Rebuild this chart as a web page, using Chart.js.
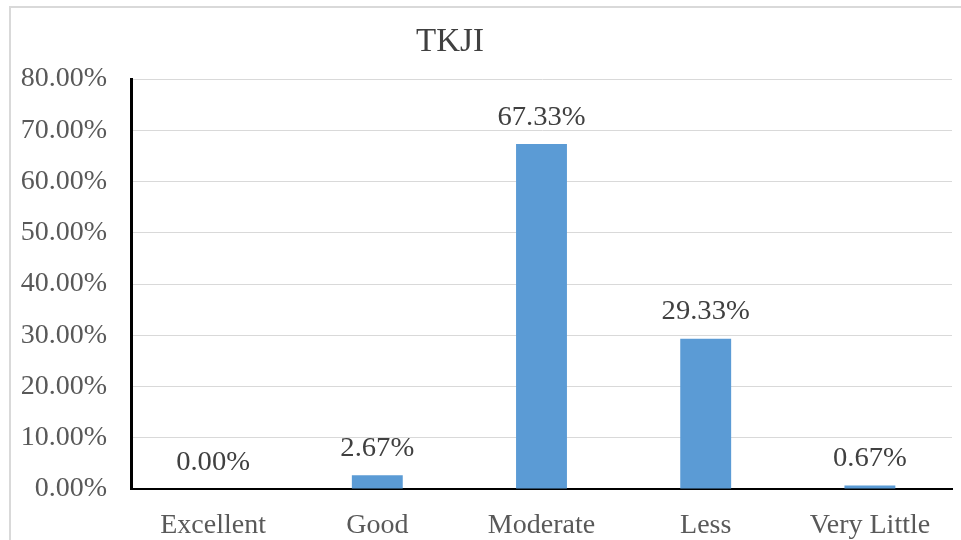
<!DOCTYPE html>
<html>
<head>
<meta charset="utf-8">
<script src="https://cdn.jsdelivr.net/npm/chart.js@4/dist/chart.umd.min.js"></script>
<style>
  body { margin: 0; background: #fff; }
  canvas { display: block; }
</style>
</head>
<body>
<canvas id="chart" width="961" height="540"></canvas>
<script>
const categories = ['Excellent', 'Good', 'Moderate', 'Less', 'Very Little'];
const percentages = [0.00, 2.67, 67.33, 29.33, 0.67];
const yTicks = [0, 10, 20, 30, 40, 50, 60, 70, 80];
const chartTitle = 'TKJI';

const serif = '"Liberation Serif", "Times New Roman", serif';

// frame + title drawn by hand, like the spreadsheet export
const framePlugin = {
    id: 'frame',
    beforeDraw(chart) {
        const ctx = chart.ctx;
        ctx.save();
        ctx.strokeStyle = '#d9d9d9';
        ctx.lineWidth = 2;
        ctx.strokeRect(10, 7, 980, 560);
        ctx.restore();
    },
    afterDraw(chart) {
        const ctx = chart.ctx;
        ctx.save();
        ctx.fillStyle = '#404040';
        ctx.font = '33px ' + serif;
        ctx.textAlign = 'center';
        ctx.textBaseline = 'middle';
        ctx.fillText(chartTitle, 450, 42);
        ctx.restore();
    }
};

// value labels above each bar (text a bit wider than tall, as in the original)
const valueLabels = {
    id: 'valueLabels',
    afterDatasetsDraw(chart) {
        const ctx = chart.ctx;
        ctx.save();
        ctx.fillStyle = '#404040';
        ctx.font = '27px ' + serif;
        ctx.textAlign = 'center';
        ctx.textBaseline = 'bottom';
        chart.getDatasetMeta(0).data.forEach((bar, i) => {
            ctx.save();
            ctx.translate(bar.x, bar.y - 13);
            ctx.scale(1.06, 1);
            ctx.fillText(percentages[i].toFixed(2) + '%', 0, 0);
            ctx.restore();
        });
        ctx.restore();
    }
};

new Chart(document.getElementById('chart'), {
    type: 'bar',
    data: {
        labels: categories,
        datasets: [{
            data: percentages,
            backgroundColor: '#5b9bd5',
            barPercentage: 0.62,
            categoryPercentage: 0.5
        }]
    },
    options: {
        responsive: false,
        animation: false,
        layout: { padding: { left: 0, right: 9, top: 79, bottom: 0 } },
        plugins: {
            legend: { display: false },
            title: { display: false },
            tooltip: { enabled: false }
        },
        scales: {
            x: {
                grid: { display: false },
                border: { color: '#000', width: 2 },
                ticks: { color: '#595959', font: { family: serif, size: 28 }, padding: 12 },
                afterFit(scale) { scale.height = 51; }
            },
            y: {
                min: 0,
                max: 80,
                afterBuildTicks(scale) { scale.ticks = yTicks.map(v => ({ value: v })); },
                grid: { color: '#d9d9d9', lineWidth: 1, drawTicks: false },
                border: { color: '#000', width: 3 },
                ticks: {
                    color: '#595959',
                    font: { family: serif, size: 28 },
                    padding: 24,
                    callback: v => v.toFixed(2) + '%'
                },
                afterFit(scale) { scale.width = 131; }
            }
        }
    },
    plugins: [framePlugin, valueLabels]
});
</script>
</body>
</html>
